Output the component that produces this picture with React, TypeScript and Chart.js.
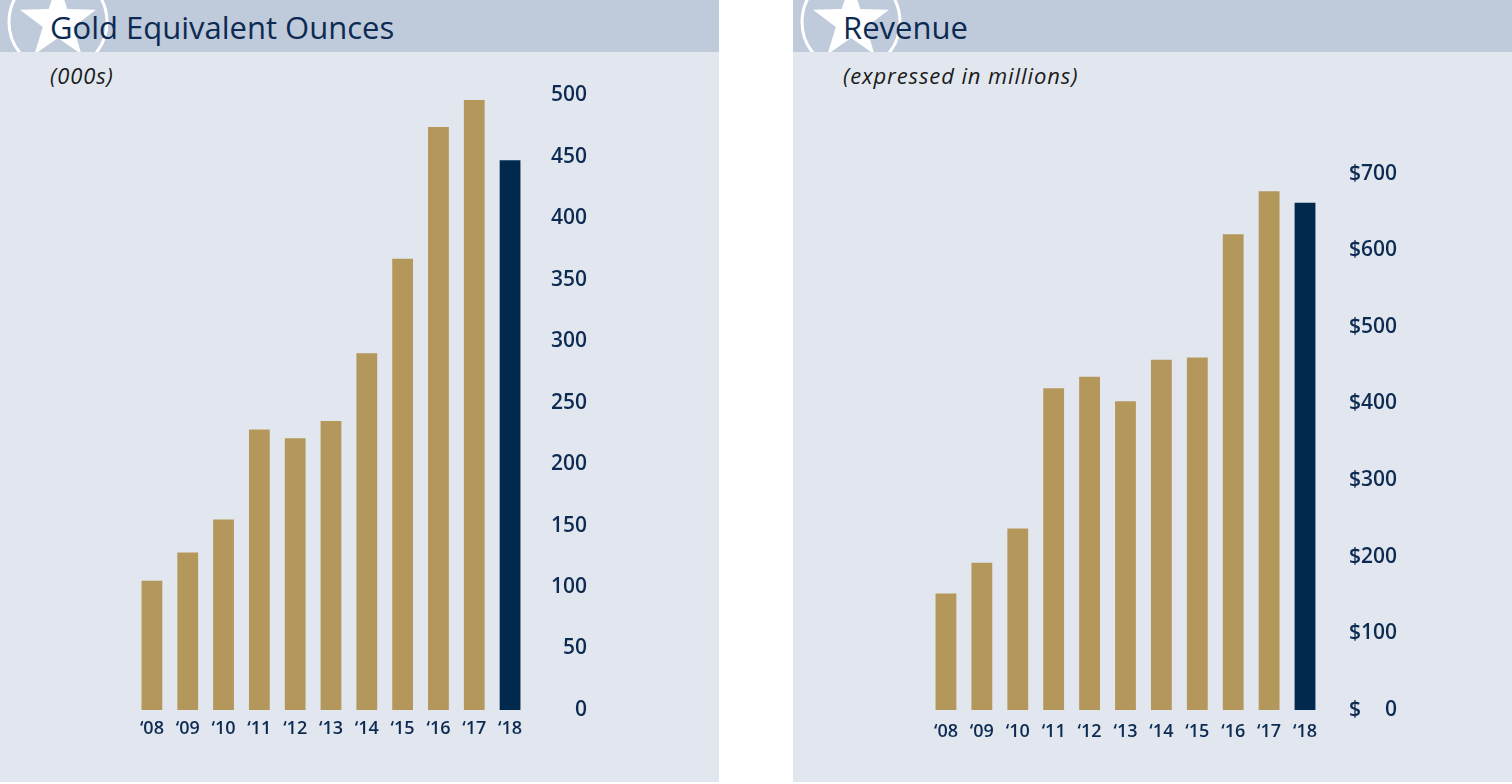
import React, { useEffect, useRef } from "react";
import { Chart, registerables } from "chart.js";

Chart.register(...registerables);

const years = ["‘08", "‘09", "‘10", "‘11", "‘12", "‘13", "‘14", "‘15", "‘16", "‘17", "‘18"];
const ounces = [105, 128, 155, 228, 221, 235, 290, 367, 474, 496, 447];
const revenue = [152, 192, 237, 420, 435, 403, 457, 460, 621, 677, 662];
const ouncesMax = 500;
const ouncesStep = 50;
const revenueMax = 700;
const revenueStep = 100;

const GOLD = "#b3975b";
const NAVY = "#01284d";
const TEXT = "#0d2b52";
const HEADER_BG = "#bfcadb";
const BODY_BG = "#e2e7ef";
const FONT = "'Open Sans', 'Noto Sans', sans-serif";

type ChartBoxProps = {
  values: number[];
  max: number;
  step: number;
  fmt: (v: number) => string;
  left: number;
  top: number;
  width: number;
  height: number;
  tickPad: number;
  xPad: number;
};

function ChartBox(p: ChartBoxProps) {
  const ref = useRef<HTMLCanvasElement | null>(null);
  useEffect(() => {
    if (!ref.current) return;
    const colors = p.values.map((_, i) => (i === p.values.length - 1 ? NAVY : GOLD));
    const chart = new Chart(ref.current, {
      type: "bar",
      data: {
        labels: years,
        datasets: [
          {
            data: p.values,
            backgroundColor: colors,
            borderWidth: 0,
            categoryPercentage: 1,
            barPercentage: 0.58,
          },
        ],
      },
      options: {
        responsive: false,
        animation: false,
        devicePixelRatio: 1,
        layout: { padding: { top: 20, left: 20, right: 0, bottom: 0 } },
        plugins: { legend: { display: false }, tooltip: { enabled: false } },
        scales: {
          x: {
            grid: { display: false, drawTicks: false },
            border: { display: false },
            ticks: {
              color: TEXT,
              padding: p.xPad,
              font: { family: FONT, size: 18, weight: 600 },
              maxRotation: 0,
              autoSkip: false,
            },
            afterFit: (s: any) => {
              s.height = 40;
            },
          },
          y: {
            position: "right",
            min: 0,
            max: p.max,
            grid: { display: false, drawTicks: false },
            border: { display: false },
            ticks: {
              stepSize: p.step,
              color: TEXT,
              padding: p.tickPad,
              crossAlign: "far",
              font: { family: FONT, size: 21, weight: 600 },
              callback: (v: any) => p.fmt(Number(v)),
            },
          },
        },
      },
    });
    return () => chart.destroy();
  }, []);
  return (
    <canvas
      ref={ref}
      width={p.width}
      height={p.height}
      style={{ position: "absolute", left: p.left, top: p.top, width: p.width, height: p.height }}
    />
  );
}

function Star() {
  const cx = 58;
  const cy = 22;
  const R = 40;
  const r = 16;
  const pts: string[] = [];
  for (let i = 0; i < 10; i++) {
    const a = -Math.PI / 2 + (i * Math.PI) / 5;
    const rad = i % 2 === 0 ? R : r;
    pts.push(`${cx + rad * Math.cos(a)},${cy + rad * Math.sin(a)}`);
  }
  return (
    <svg width={120} height={52} style={{ position: "absolute", left: 0, top: 0 }}>
      <circle cx={cx} cy={cy} r={49} fill="none" stroke="#ffffff" strokeWidth={3} />
      <polygon points={pts.join(" ")} fill="#ffffff" />
    </svg>
  );
}

type PanelProps = {
  x: number;
  title: string;
  subtitle: string;
  children: React.ReactNode;
};

function Panel({ x, title, subtitle, children }: PanelProps) {
  return (
    <div
      style={{
        position: "absolute",
        left: x,
        top: 0,
        width: 719,
        height: 782,
        background: BODY_BG,
        overflow: "hidden",
      }}
    >
      <div
        style={{
          position: "absolute",
          left: 0,
          top: 0,
          width: "100%",
          height: 52,
          background: HEADER_BG,
          overflow: "hidden",
        }}
      >
        <Star />
        <div
          style={{
            position: "absolute",
            left: 50,
            top: 6,
            fontFamily: FONT,
            fontSize: 31,
            color: TEXT,
            whiteSpace: "nowrap",
            lineHeight: "42px",
          }}
        >
          {title}
        </div>
      </div>
      <div
        style={{
          position: "absolute",
          left: 50,
          top: 60,
          fontFamily: FONT,
          fontStyle: "italic",
          fontSize: 22,
          letterSpacing: "0.9px",
          color: "#1b1b1b",
          whiteSpace: "nowrap",
          lineHeight: "30px",
        }}
      >
        {subtitle}
      </div>
      {children}
    </div>
  );
}

export default function App() {
  return (
    <div style={{ position: "absolute", left: 0, top: 0, width: 1512, height: 784, background: "#ffffff" }}>
      <Panel x={0} title="Gold Equivalent Ounces" subtitle="(000s)">
        <ChartBox
          values={ounces}
          max={ouncesMax}
          step={ouncesStep}
          fmt={(v) => String(v)}
          left={114}
          top={71}
          width={473}
          height={679}
          tickPad={11.5}
          xPad={8}
        />
      </Panel>
      <Panel x={793} title="Revenue" subtitle="(expressed in millions)">
        <ChartBox
          values={revenue}
          max={revenueMax}
          step={revenueStep}
          fmt={(v) => (v === 0 ? "$\u2007\u20070" : "$" + v)}
          left={115}
          top={148}
          width={489}
          height={602}
          tickPad={13}
          xPad={11}
        />
      </Panel>
    </div>
  );
}
